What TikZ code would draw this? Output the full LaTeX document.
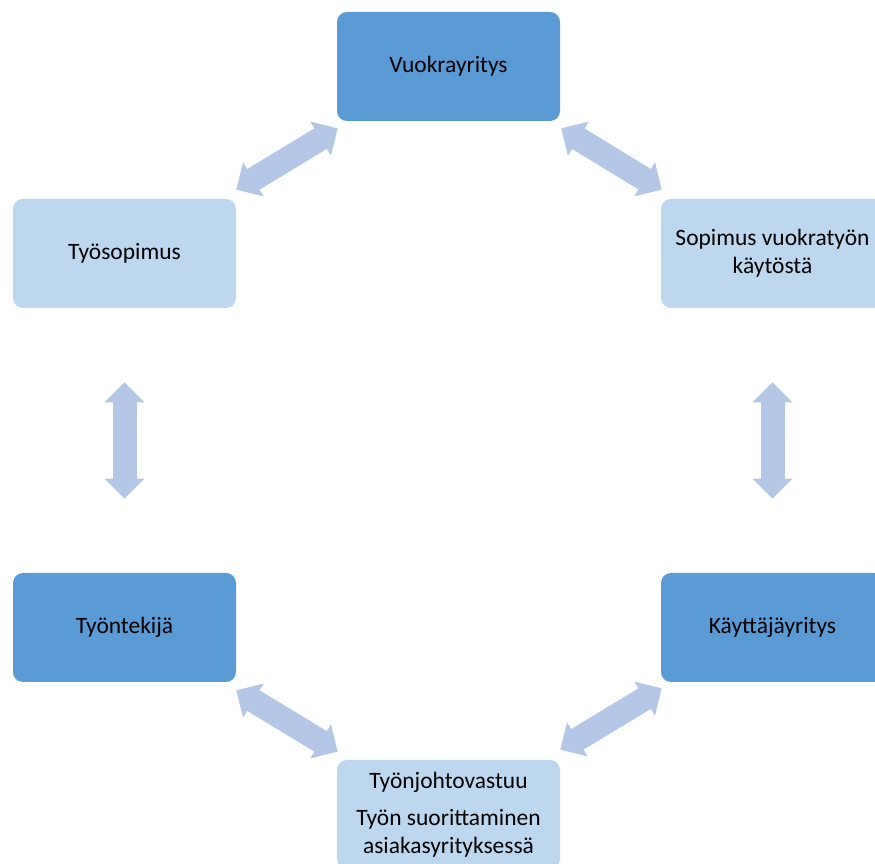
\documentclass[tikz,border=0pt]{standalone}
\usepackage{fontspec}
\setmainfont{Carlito}
\usetikzlibrary{arrows.meta,calc}
\definecolor{boxdark}{HTML}{5B9BD5}
\definecolor{boxlight}{HTML}{BDD7EE}
\definecolor{arrblue}{HTML}{B4C7E7}
\begin{document}
\begin{tikzpicture}[x=0.75pt,y=0.75pt,
    font=\fontsize{17.6}{21}\selectfont,
    box/.style={rounded corners=7.5pt,minimum width=167.25pt,
      minimum height=81.75pt,align=center,inner sep=0pt},
    dark/.style={box,fill=boxdark},
    light/.style={box,fill=boxlight},
    arr/.style={draw=arrblue,line width=18pt,
      {Triangle[length=15pt,width=29pt]}-{Triangle[length=15pt,width=29pt]}}]
  \useasboundingbox (0,0) rectangle (875,864);
  \node[dark] (vuokra) at (448.5,797.5) {Vuokrayritys};
  \node[light] (tyosop) at (124.5,610.5) {Työsopimus};
  \node[light] (sopimus) at (772.5,610.5) {Sopimus vuokratyön\\käytöstä};
  \node[dark] (tyontek) at (124.5,236.5) {Työntekijä};
  \node[dark] (kayttaja) at (772.5,236.5) {Käyttäjäyritys};
  \node[light] (johto) at (448.5,49.5)
    {Työnjohtovastuu\\[7pt]Työn suorittaminen\\asiakasyrityksessä};
  % block arrows between the boxes
  \draw[arr] ($(tyosop.north east)+(0,9)$) -- ($(vuokra.south west)+(1,-7)$);
  \draw[arr] ($(vuokra.south east)+(1,-7)$) -- ($(sopimus.north west)+(1,9)$);
  \draw[arr,shorten <=55.5pt,shorten >=55.5pt] (tyosop) -- (tyontek);
  \draw[arr,shorten <=55.5pt,shorten >=55.5pt] (sopimus) -- (kayttaja);
  \draw[arr] ($(tyontek.south east)+(0,-8)$) -- ($(johto.north west)+(1,8)$);
  \draw[arr] ($(johto.north east)+(0,10)$) -- ($(kayttaja.south west)+(1,-6)$);
\end{tikzpicture}
\end{document}
